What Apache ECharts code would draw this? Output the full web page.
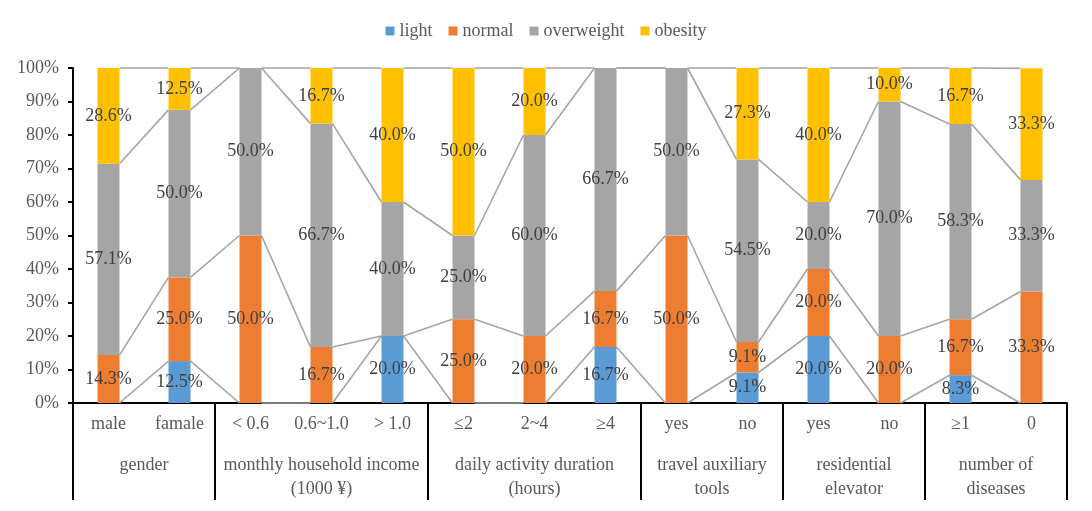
<!DOCTYPE html>
<html>
<head>
<meta charset="utf-8">
<script src="https://cdn.jsdelivr.net/npm/echarts@6/dist/echarts.min.js"></script>
<style>html,body{margin:0;padding:0;background:#fff}#c{width:1092px;height:511px}</style>
</head>
<body>
<div id="c"></div>
<script>
const categories = ['male','famale','< 0.6','0.6~1.0','> 1.0','\u22642','2~4','\u22654','yes','no','yes','no','\u22651','0'];
const groupNames = ['gender','monthly household income\n(1000 \u00a5)','daily activity duration\n(hours)','travel auxiliary\ntools','residential\nelevator','number of\ndiseases'];
const groupSizes = [2,3,3,2,2,2];
const seriesNames = ['light','normal','overweight','obesity'];
const light      = [0, 12.5, 0, 0, 20.0, 0, 0, 16.7, 0, 9.1, 20.0, 0, 8.3, 0];
const normal     = [14.3, 25.0, 50.0, 16.7, 0, 25.0, 20.0, 16.7, 50.0, 9.1, 20.0, 20.0, 16.7, 33.3];
const overweight = [57.1, 50.0, 50.0, 66.7, 40.0, 25.0, 60.0, 66.7, 50.0, 54.5, 20.0, 70.0, 58.3, 33.3];
const obesity    = [28.6, 12.5, 0, 16.7, 40.0, 50.0, 20.0, 0, 0, 27.3, 40.0, 10.0, 16.7, 33.3];
const colors = ['#5B9BD5','#ED7D31','#A5A5A5','#FFC000'];

const seriesData = [light, normal, overweight, obesity];
const FONT = '"Liberation Serif","Times New Roman",serif';
const BAR_RATIO = 0.31;

// cumulative tops per category (for series lines)
const cum = categories.map((_, i) => {
  let s = 0;
  return seriesData.map(arr => { s += arr[i]; return Math.min(s, 100); });
});
const lineData = [];
for (let i = 0; i < categories.length - 1; i++) {
  lineData.push([i].concat(cum[i], cum[i + 1]));
}

// group boundaries and centers
const groupBounds = [0];
const groupCenters = [];
let acc = 0;
groupSizes.forEach(n => { groupCenters.push(acc + n / 2); acc += n; groupBounds.push(acc); });

const chart = echarts.init(document.getElementById('c'), null, {renderer: 'canvas'});

const barSeries = seriesNames.map((name, k) => ({
  name: name,
  type: 'bar',
  stack: 'total',
  xAxisIndex: 0,
  yAxisIndex: 0,
  barWidth: (BAR_RATIO * 100) + '%',
  itemStyle: {color: colors[k]},
  z: 3,
  label: {
    show: true,
    position: 'inside',
    fontFamily: FONT,
    fontSize: 18,
    color: '#404040',
    formatter: p => p.value > 0 ? p.value.toFixed(1) + '%' : ''
  },
  data: seriesData[k]
}));

const linesSeries = {
  type: 'custom',
  xAxisIndex: 0,
  yAxisIndex: 0,
  z: 2,
  silent: true,
  renderItem: function (params, api) {
    const i = api.value(0);
    const bw = api.size([1, 0])[0];
    const half = bw * BAR_RATIO / 2;
    const children = [];
    for (let k = 0; k < 4; k++) {
      const p1 = api.coord([i, api.value(1 + k)]);
      const p2 = api.coord([i + 1, api.value(5 + k)]);
      children.push({
        type: 'line',
        shape: {x1: p1[0] + half, y1: p1[1], x2: p2[0] - half, y2: p2[1]},
        style: {stroke: '#A5A5A5', lineWidth: 1.6}
      });
    }
    return {type: 'group', children: children};
  },
  encode: {x: 0, y: 1},
  data: lineData
};

chart.setOption({
  animation: false,
  backgroundColor: '#fff',
  legend: {
    data: seriesNames,
    top: 17,
    left: 'center',
    icon: 'rect',
    itemWidth: 9,
    itemHeight: 9,
    itemGap: 16,
    textStyle: {fontFamily: FONT, fontSize: 18, color: '#595959'}
  },
  grid: {left: 73, right: 25, top: 68, bottom: 108, containLabel: false, outerBoundsMode: 'none'},
  xAxis: [
    {
      type: 'category',
      data: categories,
      position: 'bottom',
      axisLine: {show: true, lineStyle: {color: '#000', width: 2}},
      axisTick: {show: false},
      axisLabel: {interval: 0, margin: 12, fontFamily: FONT, fontSize: 18, color: '#595959'},
      splitLine: {show: false}
    },
    {
      type: 'value',
      min: 0,
      max: 14,
      position: 'bottom',
      axisLine: {show: false},
      splitLine: {show: false},
      axisTick: {show: true, length: 97, inside: false, customValues: groupBounds, lineStyle: {color: '#000', width: 2}},
      axisLabel: {
        show: true,
        margin: 50,
        customValues: groupCenters,
        fontFamily: FONT, fontSize: 18, color: '#595959', lineHeight: 24,
        formatter: function (v) {
          const idx = groupCenters.indexOf(v);
          return idx >= 0 ? groupNames[idx] : '';
        }
      }
    }
  ],
  yAxis: {
    type: 'value',
    min: 0,
    max: 100,
    interval: 10,
    axisLine: {show: true, lineStyle: {color: '#000', width: 2}},
    axisTick: {show: true, length: 5, inside: false, lineStyle: {color: '#000', width: 2}},
    axisLabel: {margin: 14, fontFamily: FONT, fontSize: 18, color: '#595959', formatter: '{value}%'},
    splitLine: {show: false}
  },
  series: barSeries.concat([linesSeries])
});
</script>
</body>
</html>
